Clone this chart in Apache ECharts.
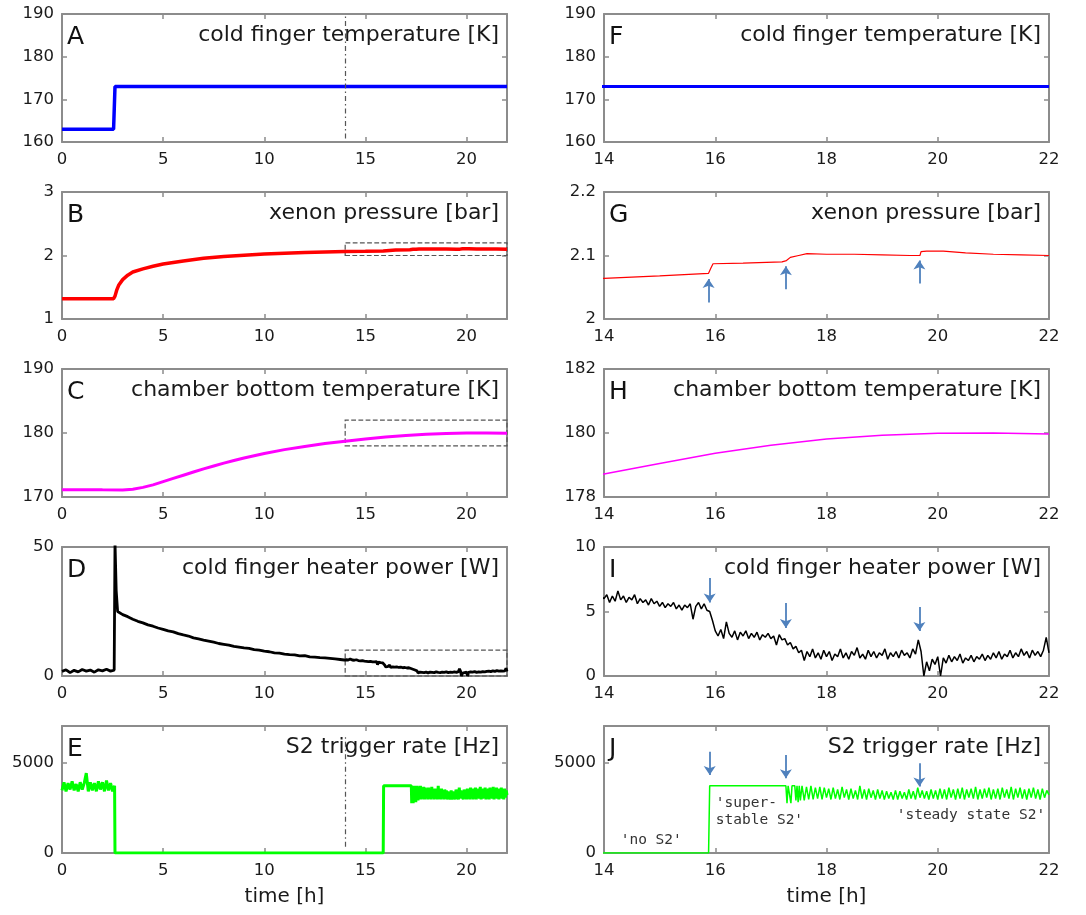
<!DOCTYPE html>
<html><head><meta charset="utf-8">
<script src="https://cdn.jsdelivr.net/npm/echarts/dist/echarts.min.js"></script>
<style>html,body{margin:0;padding:0;background:#fff}#c{width:1086px;height:915px}</style>
</head><body><div id="c"></div>
<script>
// ---------------- data ----------------
// cold finger temperature [K]  (time [h], value)
const coldFinger = [[0,163],[2.55,163],[2.62,173],[22,173]];
// xenon pressure [bar]
const xenon = [[0,1.32],[2.55,1.32],[2.62,1.36],[2.7,1.45],[2.8,1.53],[3.0,1.62],[3.25,1.69],[3.5,1.74],[4.0,1.79],[4.5,1.83],[5.0,1.865],[6.0,1.915],[7.0,1.955],[8.0,1.985],[9.0,2.005],[10.0,2.022],[11.0,2.037],[12.0,2.048],[13.0,2.057],[14.0,2.064],[15.0,2.068],[15.88,2.072],[15.92,2.08],[15.96,2.087],[16.5,2.088],[17.2,2.090],[17.28,2.092],[17.35,2.097],[17.5,2.100],[17.65,2.103],[18.0,2.102],[18.5,2.102],[19.0,2.101],[19.5,2.100],[19.68,2.100],[19.7,2.106],[19.8,2.107],[20.1,2.107],[20.5,2.104],[21.0,2.102],[21.5,2.101],[22.0,2.100]];
// chamber bottom temperature [K]
const chamber = [[0,171.15],[1,171.15],[2,171.12],[3,171.1],[3.5,171.2],[4,171.5],[4.5,171.9],[5,172.4],[5.5,172.9],[6,173.4],[6.5,173.9],[7,174.4],[7.5,174.85],[8,175.3],[8.5,175.7],[9,176.1],[9.5,176.45],[10,176.8],[11,177.4],[12,177.9],[13,178.35],[14,178.72],[15,179.05],[16,179.37],[17,179.62],[18,179.81],[19,179.93],[20,179.99],[21,180.0],[22,179.97]];
// cold finger heater power [W], coarse part 0-14 h
const heaterCoarse = [[0,1.8],[0.2,2.4],[0.4,1.3],[0.6,2.2],[0.8,1.6],[1.0,2.5],[1.2,1.9],[1.4,2.3],[1.6,1.5],[1.8,2.4],[2.0,2.0],[2.2,2.6],[2.4,1.9],[2.58,2.3],[2.62,52],[2.68,33],[2.75,25],[3.0,23.8],[3.25,23.0],[3.5,22.0],[3.75,21.2],[4.0,20.6],[4.25,19.8],[4.5,19.3],[4.75,18.6],[5.0,18.1],[5.25,17.5],[5.5,17.1],[5.75,16.4],[6.0,15.9],[6.25,15.5],[6.5,14.8],[6.75,14.4],[7.0,13.9],[7.25,13.5],[7.5,13.1],[7.75,12.6],[8.0,12.3],[8.25,12.0],[8.5,11.5],[8.75,11.2],[9.0,10.9],[9.25,10.7],[9.5,10.2],[9.75,10.0],[10.0,9.6],[10.25,9.4],[10.5,9.0],[10.75,8.9],[11.0,8.5],[11.25,8.3],[11.5,8.2],[11.75,7.8],[12.0,7.9],[12.25,7.4],[12.5,7.3],[12.75,7.1],[13.0,7.0],[13.25,6.8],[13.5,6.6],[13.75,6.4],[13.95,6.2]];
// heater power 14-22 h, one reading every 0.05 h
const heaterFineStart = 14, heaterFineStep = 0.05;
const heaterFine = [
 6.0,6.3,5.7,6.2,5.8,6.6,5.9,6.2,5.7,6.1,5.9,6.3,5.6,6.0,5.7,5.9,5.5,6.0,5.6,5.8,
 5.4,5.7,5.3,5.6,5.4,5.7,5.2,5.5,5.1,5.5,5.3,5.6,4.4,5.4,5.7,5.2,5.6,5.1,5.0,4.3,
 3.5,3.1,3.6,2.9,4.2,3.3,3.0,3.5,2.8,3.4,3.1,3.5,2.9,3.3,3.0,3.4,2.8,3.2,3.0,3.3,
 2.9,3.1,2.4,3.2,2.8,2.9,2.4,2.6,2.1,2.3,1.8,2.0,1.2,1.9,1.5,2.1,1.4,1.8,1.3,2.0,
 1.5,1.9,1.2,1.7,1.5,2.1,1.4,1.8,1.3,1.9,1.6,2.2,1.4,1.7,1.3,2.0,1.5,1.9,1.4,1.8,
 1.6,2.1,1.3,1.8,1.5,1.9,1.4,2.0,1.6,1.8,1.4,2.1,1.7,2.8,1.9,0.0,1.1,0.4,1.3,0.9,
 1.5,0.0,1.4,1.0,1.6,1.1,1.5,1.2,1.7,1.0,1.4,1.2,1.6,1.1,1.5,1.3,1.7,1.2,1.6,1.3,
 1.8,1.4,1.9,1.3,1.7,1.5,2.0,1.4,1.8,1.5,2.1,1.6,1.9,1.4,2.0,1.6,1.9,1.5,2.0,3.0,
 1.8];
// S2 trigger rate [Hz]: 0-2.6 h, one reading every 0.1 h
const trigPreStart = 0, trigPreStep = 0.1;
const trigPre = [3450,3900,3400,3850,3500,3950,3450,3800,3400,3900,3500,3850,4400,3400,3900,3450,3850,3400,3950,3500,3900,3400,4000,3450,3850,3400,3700];
// S2 trigger rate: steps and transition
const trigSteps = [[2.62,0],[15.88,0],[15.9,3700],[17.27,3700],[17.29,2750],[17.31,3700],[17.34,3650],[17.36,2750],[17.38,3700],[17.43,3700],[17.45,2900],[17.47,3700],[17.49,2800],[17.51,3700],[17.53,2900]];
// S2 trigger rate: steady state, one reading every 0.04 h from 17.56 h
const trigNoiseStart = 17.56, trigNoiseStep = 0.04;
const trigNoise = [
 3700,2900,3650,2950,3700,2950,3600,3000,3650,2950,3600,
 3050,3550,2950,3600,3000,3500,2950,3650,3050,3500,2950,3550,3000,3450,2950,3700,3000,3500,2950,3550,3050,3450,2950,3500,3000,
 3450,2950,3400,3000,3350,2950,3450,2950,3400,3000,3350,2950,3500,3000,3400,2950,3600,3050,3450,3000,3400,2950,3500,3000,3450,
 2950,3550,3000,3500,2950,3600,3050,3500,2950,3550,3000,3600,2950,3500,3050,3550,3000,3650,2950,3500,3000,3550,3050,3600,2950,
 3500,3000,3550,2950,3600,3050,3500,3000,3650,2950,3550,3050,3600,3000,3500,2950,3550,3050,3600,3000,3500,2950,3550,3050,3450,3200];

// arrows: [time, from value, to value]
const arrowsG = [[15.88,2.026,2.063],[17.27,2.047,2.083],[19.67,2.056,2.092]];
const arrowsI = [[15.9,7.6,5.7],[17.27,5.66,3.72],[19.67,5.35,3.49]];
const arrowsJ = [[15.9,5580,4300],[17.27,5400,4120],[19.67,4950,3660]];
// annotations in J: [text, time, value, side]
const notesJ = [["'no S2'",14.3,730,'right'],["'super-\nstable S2'",16.01,2300,'right'],["'steady state S2'",21.93,2105,'left']];
// zoom boxes and guide lines
const rectB = [[14,2.0],[22,2.2]], rectC = [[14,178],[22,182]], rectD = [[14,0],[22,10]];
const guideA = [14,160.8,190], guideE = [14,350,6500];

// axes: [min, max, interval]
const xLeft = [0,22,5], xRight = [14,22,2];
const yA=[160,190,10], yB=[1,3,1], yC=[170,190,10], yD=[0,50,50], yE=[0,7000,5000];
const yF=[160,190,10], yG=[2,2.2,0.1], yH=[178,182,2], yI=[0,10,5], yJ=[0,7000,5000];
const letters = ['A','B','C','D','E','F','G','H','I','J'];
const titles = ['cold finger temperature [K]','xenon pressure [bar]','chamber bottom temperature [K]','cold finger heater power [W]','S2 trigger rate [Hz]'];

// ---------------- build ----------------
const heater = heaterCoarse.concat(heaterFine.map((v,i)=>[+(heaterFineStart+i*heaterFineStep).toFixed(3), v]));
const trigger = trigPre.map((v,i)=>[+(trigPreStart+i*trigPreStep).toFixed(3), v])
  .concat(trigSteps)
  .concat(trigNoise.map((v,i)=>[+(trigNoiseStart+i*trigNoiseStep).toFixed(3), v]));

const colLeft = [62, 604], plotW = 445;
const rowTop = [14,192,369,547,726], rowH = [128,127,128,129,127];
const FONT = 'DejaVu Sans';
const frameColor = '#8c8c8c';

const panels = [
 {col:0,row:0,x:xLeft,y:yA,data:coldFinger,color:'#0000ff',lw:3.5,guide:guideA},
 {col:0,row:1,x:xLeft,y:yB,data:xenon,color:'#ff0000',lw:3.5,rect:rectB},
 {col:0,row:2,x:xLeft,y:yC,data:chamber,color:'#ff00ff',lw:3,rect:rectC},
 {col:0,row:3,x:xLeft,y:yD,data:heater,color:'#000000',lw:2.8,rect:rectD},
 {col:0,row:4,x:xLeft,y:yE,data:trigger,color:'#00ff00',lw:3,guide:guideE},
 {col:1,row:0,x:xRight,y:yF,data:coldFinger,color:'#0000ff',lw:3},
 {col:1,row:1,x:xRight,y:yG,data:xenon,color:'#ff0000',lw:1.2,arrows:arrowsG},
 {col:1,row:2,x:xRight,y:yH,data:chamber,color:'#ff00ff',lw:1.5},
 {col:1,row:3,x:xRight,y:yI,data:heater,color:'#000000',lw:1.5,arrows:arrowsI},
 {col:1,row:4,x:xRight,y:yJ,data:trigger,color:'#00ff00',lw:1.5,arrows:arrowsJ,notes:notesJ}
];

function fmt(int){
  return function(v){ const r=v/int; return Math.abs(r-Math.round(r))<1e-6 ? String(+v.toFixed(3)) : ''; };
}
const grid=[], xAxis=[], yAxis=[], series=[], graphic=[];
panels.forEach((p,i)=>{
  const left = colLeft[p.col], top = rowTop[p.row], h = rowH[p.row];
  grid.push({left:left, top:top, width:plotW, height:h, show:false, containLabel:false, outerBoundsMode:'none'});
  const line = {show:true, onZero:false, lineStyle:{color:frameColor, width:2}};
  const tick = {show:true, inside:true, length:5, lineStyle:{color:frameColor, width:1.5}};
  const lab = {show:true, fontSize:16.5, color:'#1a1a1a', fontFamily:FONT};
  xAxis.push({gridIndex:i, type:'value', position:'bottom', min:p.x[0], max:p.x[1], interval:p.x[2],
    axisLine:line, axisTick:tick, splitLine:{show:false},
    axisLabel:Object.assign({margin:9, formatter:fmt(p.x[2])}, lab),
    name: p.row===4 ? 'time [h]' : '', nameLocation:'middle', nameGap:34,
    nameTextStyle:{fontSize:20, color:'#1a1a1a', fontFamily:FONT}});
  xAxis.push({gridIndex:i, type:'value', position:'top', min:p.x[0], max:p.x[1], interval:p.x[2],
    axisLine:line, axisTick:tick, axisLabel:{show:false}, splitLine:{show:false}});
  yAxis.push({gridIndex:i, type:'value', position:'left', min:p.y[0], max:p.y[1], interval:p.y[2],
    axisLine:line, axisTick:tick, splitLine:{show:false},
    axisLabel:Object.assign({margin:8, formatter:fmt(p.y[2])}, lab)});
  yAxis.push({gridIndex:i, type:'value', position:'right', min:p.y[0], max:p.y[1], interval:p.y[2],
    axisLine:line, axisTick:tick, axisLabel:{show:false}, splitLine:{show:false}});

  const s = {type:'line', xAxisIndex:2*i, yAxisIndex:2*i, data:p.data, symbol:'none', showSymbol:false,
    clip:true, silent:true, animation:false, lineStyle:{color:p.color, width:p.lw}, z:3};
  if (p.guide) {
    s.markLine = {silent:true, animation:false, symbol:['none','none'], label:{show:false},
      lineStyle:{color:'#555', width:1.2, type:[5,3,1.5,3]},
      data:[[{coord:[p.guide[0],p.guide[1]]},{coord:[p.guide[0],p.guide[2]]}]]};
  }
  if (p.arrows) {
    s.markLine = {silent:true, animation:false, symbol:['none','arrow'], symbolSize:9, label:{show:false},
      lineStyle:{color:'#4f81bd', width:1.8, type:'solid'},
      data:p.arrows.map(a=>[{coord:[a[0],a[1]]},{coord:[a[0],a[2]]}])};
  }
  if (p.rect) {
    s.markArea = {silent:true, animation:false, label:{show:false},
      itemStyle:{color:'rgba(0,0,0,0)', borderColor:'#555', borderWidth:1.2, borderType:'dashed'},
      data:[[{coord:p.rect[0]},{coord:p.rect[1]}]]};
  }
  if (p.notes) {
    s.markPoint = {silent:true, animation:false, symbol:'circle', symbolSize:0,
      data:p.notes.map(n=>({name:n[0], coord:[n[1],n[2]],
        label:{show:true, position:n[3], distance:0, formatter:'{b}', fontFamily:'DejaVu Sans Mono',
          fontSize:14.5, lineHeight:17, color:'#333', align: n[3]==='right'?'left':'right'}}))};
  }
  series.push(s);

  graphic.push({type:'text', x:left+5, y:top+23.5, silent:true, z:10,
    style:{text:letters[i], font:'25px "'+FONT+'"', fill:'#111', align:'left', verticalAlign:'middle', textAlign:'left', textVerticalAlign:'middle'}});
  graphic.push({type:'text', x:left+plotW-8, y:top+21, silent:true, z:10,
    style:{text:titles[p.row], font:'22px "'+FONT+'"', fill:'#1a1a1a', align:'right', verticalAlign:'middle', textAlign:'right', textVerticalAlign:'middle'}});
});

const chart = echarts.init(document.getElementById('c'), null, {renderer:'canvas'});
chart.setOption({animation:false, backgroundColor:'#ffffff', grid, xAxis, yAxis, series, graphic});
</script></body></html>
